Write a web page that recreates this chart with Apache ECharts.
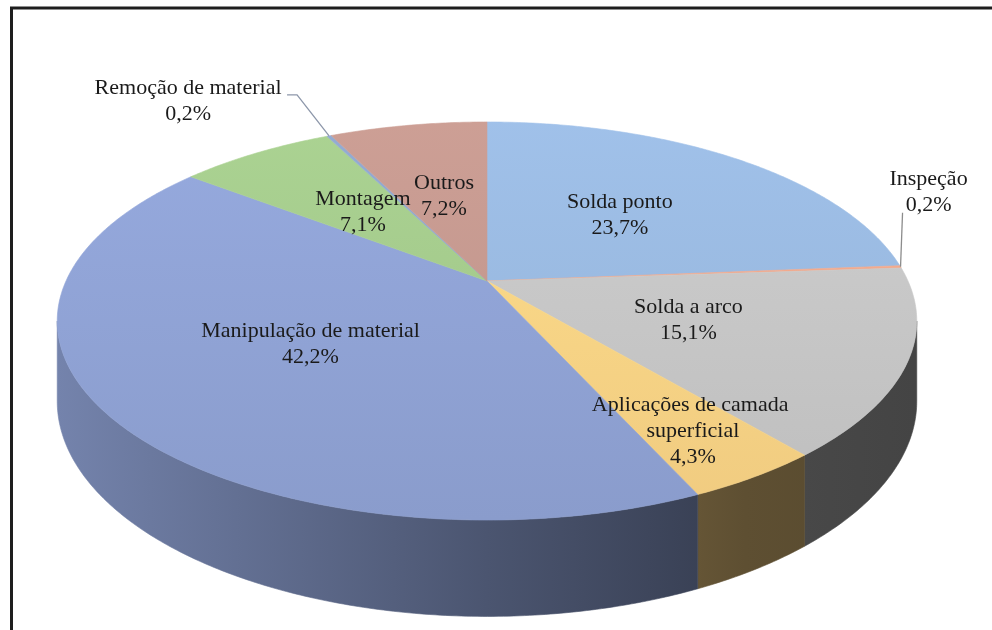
<!DOCTYPE html>
<html>
<head>
<meta charset="utf-8">
<script src="https://cdn.jsdelivr.net/npm/echarts@6/dist/echarts.min.js"></script>
<style>
  html, body { margin: 0; padding: 0; background: #fff; }
  #chart { width: 992px; height: 630px; }
</style>
</head>
<body>
<div id="chart"></div>
<script>
// dados do gráfico
var categories = ['Solda ponto', 'Inspeção', 'Solda a arco', 'Aplicações de camada superficial',
                  'Manipulação de material', 'Montagem', 'Remoção de material', 'Outros'];
var shares = [23.7, 0.2, 15.1, 4.3, 42.2, 7.1, 0.2, 7.2];
var colors = ['#9BBBE2', '#F2A98C', '#C8C8C8', '#FDD687', '#91A4D7', '#A5CC8D', '#8FA6CC', '#C69A90'];

// geometria da "pizza 3D" (perspectiva)
var CX = 487, CY = 281, RX = 421, RY = 191, PERSP = 0.201, DEPTH = 77;
var labelRadius = [0.5, null, 0.5, 0.8, 0.5, 0.5, null, 0.5];
var outside = {
    1: { dx: 28, dy: -75, leader: [[2, -54]] },
    6: { dx: -141, dy: -35, leader: [[-32, -41], [-42, -41]] }
};

var total = shares.reduce(function (a, b) { return a + b; }, 0);
var starts = [];
var acc = 0;
shares.forEach(function (v) { starts.push(acc / total * Math.PI * 2); acc += v; });

function project(phi, r, drop) {
    var X = r * Math.sin(phi), Y = -r * Math.cos(phi);
    var d = 1 - PERSP * Y;
    return [CX + RX * X / d, CY + RY * Y / d + (drop ? DEPTH / d : 0)];
}

function arcPoints(a0, a1, r, drop) {
    var pts = [];
    var n = Math.max(2, Math.ceil((a1 - a0) / 0.01));
    for (var i = 0; i <= n; i++) pts.push(project(a0 + (a1 - a0) * i / n, r, drop));
    return pts;
}

function shade(hex, f) {
    var c = parseInt(hex.slice(1), 16);
    var r = Math.min(255, Math.round(((c >> 16) & 255) * f));
    var g = Math.min(255, Math.round(((c >> 8) & 255) * f));
    var b = Math.min(255, Math.round((c & 255) * f));
    return 'rgb(' + r + ',' + g + ',' + b + ')';
}

function pct(v) { return v.toFixed(1).replace('.', ',') + '%'; }

var SIDE_FROM = Math.acos(-PERSP), SIDE_TO = Math.PI * 2 - SIDE_FROM;

// faces laterais
function renderSide(params, api) {
    var i = params.dataIndex;
    var a0 = Math.max(starts[i], SIDE_FROM);
    var a1 = Math.min(starts[i] + shares[i] / total * Math.PI * 2, SIDE_TO);
    if (a1 <= a0) return;
    var pts = arcPoints(a0, a1, 1, false).concat(arcPoints(a0, a1, 1, true).reverse());
    var fill = new echarts.graphic.LinearGradient(CX - RX * 1.02, 0, CX + RX * 1.02, 0, [
        { offset: 0, color: shade(colors[i], 0.80) },
        { offset: 0.5, color: shade(colors[i], 0.52) },
        { offset: 0.8, color: shade(colors[i], 0.37) },
        { offset: 1, color: shade(colors[i], 0.34) }
    ], true);
    return {
        type: 'polygon',
        shape: { points: pts },
        style: { fill: fill, stroke: fill, lineWidth: 0.6 }
    };
}

// faces superiores
function renderTop(params, api) {
    var i = params.dataIndex;
    var a0 = starts[i], a1 = a0 + shares[i] / total * Math.PI * 2;
    var pts = [[CX, CY]].concat(arcPoints(a0, a1, 1, false));
    var fill = new echarts.graphic.LinearGradient(0, CY - RY, 0, CY + RY * 1.25, [
        { offset: 0, color: shade(colors[i], 1.04) },
        { offset: 1, color: shade(colors[i], 0.95) }
    ], true);
    return {
        type: 'polygon',
        shape: { points: pts },
        style: { fill: fill, stroke: fill, lineWidth: 0.6 }
    };
}

// rótulos
function renderLabel(params, api) {
    var i = params.dataIndex;
    var a0 = starts[i], a1 = a0 + shares[i] / total * Math.PI * 2;
    var mid = (a0 + a1) / 2;
    var children = [];
    var pos;
    if (labelRadius[i] != null) {
        pos = project(mid, labelRadius[i], false);
    } else {
        var edge = project(mid, 1, false);
        var o = outside[i];
        pos = [edge[0] + o.dx, edge[1] + o.dy];
        var line = [edge].concat(o.leader.map(function (p) { return [edge[0] + p[0], edge[1] + p[1]]; }));
        children.push({
            type: 'polyline',
            shape: { points: line },
            style: { stroke: i === 6 ? '#8d97aa' : '#8c8c8c', lineWidth: 1.3, fill: null }
        });
    }
    children.push({
        type: 'text',
        style: {
            text: categories[i] + '\n' + pct(shares[i]),
            x: pos[0], y: pos[1],
            align: 'center', verticalAlign: 'middle',
            font: '22px "Liberation Serif", "Times New Roman", serif',
            fill: '#1a1a1a',
            lineHeight: 26,
            width: 280,
            overflow: 'break'
        }
    });
    return { type: 'group', children: children };
}

var chart = echarts.init(document.getElementById('chart'));
var seriesData = shares.map(function (v, i) { return { name: categories[i], value: v }; });

chart.setOption({
    animation: false,
    backgroundColor: '#fff',
    graphic: [
        { type: 'line', shape: { x1: 10, y1: 8, x2: 992, y2: 8 }, style: { stroke: '#1e1e1e', lineWidth: 3 } },
        { type: 'line', shape: { x1: 11.5, y1: 7, x2: 11.5, y2: 630 }, style: { stroke: '#1e1e1e', lineWidth: 3 } }
    ],
    series: [
        { type: 'custom', coordinateSystem: 'none', silent: true, z: 1, renderItem: renderSide, data: seriesData },
        { type: 'custom', coordinateSystem: 'none', silent: true, z: 2, renderItem: renderTop, data: seriesData },
        { type: 'custom', coordinateSystem: 'none', silent: true, z: 3, renderItem: renderLabel, data: seriesData }
    ]
});
</script>
</body>
</html>
